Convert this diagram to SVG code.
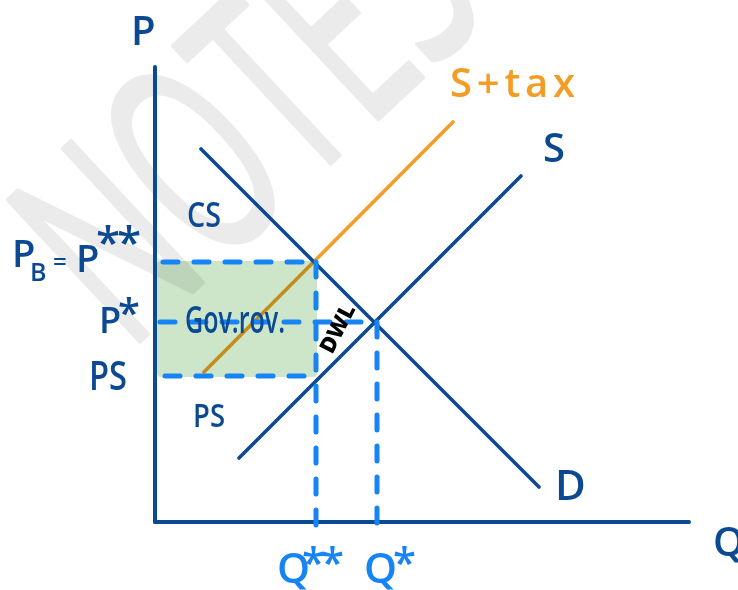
<svg xmlns="http://www.w3.org/2000/svg" width="738" height="590" viewBox="0 0 738 590">
<style>
.ax{stroke:#0b4a92;stroke-width:4;stroke-linecap:round;fill:none}
.cv{stroke:#0b4a92;stroke-width:3.6;stroke-linecap:round;fill:none}
.tax{stroke:#f39c26;stroke-width:3.6;stroke-linecap:round;fill:none}
.dash{stroke:#1784f5;stroke-width:5;stroke-linecap:round;stroke-dasharray:15 16;fill:none}
.lb{font-family:"Open Sans","Noto Sans",sans-serif;font-weight:600;fill:#0b4a92}
.lq{font-family:"Open Sans","Noto Sans",sans-serif;font-weight:600;fill:#1784f5}
.lo{font-family:"Open Sans","Noto Sans",sans-serif;font-weight:600;fill:#f39c26}
.wm{font-family:"Open Sans","Noto Sans",sans-serif;font-weight:400;fill:#ebebeb;stroke:#ebebeb;stroke-width:5;stroke-linejoin:round}
</style>
<rect width="738" height="590" fill="#ffffff"/>
<g id="watermark">
<text class="wm" font-size="270" transform="translate(128,352) rotate(-43) scale(0.58,1)">NOTES</text>
</g>
<g id="supply-tax">
<line class="tax" x1="204" y1="372" x2="453" y2="122"/>
</g>
<g id="gov-revenue">
<rect x="157" y="261" width="160" height="116" rx="4" fill="#cde6ca" style="mix-blend-mode:multiply"/>
</g>
<g id="connectors">
<line class="ax" x1="155" y1="67" x2="155" y2="522"/>
<line class="ax" x1="155" y1="522" x2="689" y2="522"/>
<line class="cv" x1="201" y1="149" x2="539" y2="487"/>
<line class="cv" x1="239" y1="458" x2="521" y2="176"/>
<path class="dash" d="M163,262 H316"/>
<path class="dash" d="M316,262 V536"/>
<path class="dash" d="M165,376 H316"/>
<path class="dash" d="M160,322 H377"/>
<path class="dash" d="M377,322 V528"/>
</g>
<g id="axis-labels">
<text class="lb" x="131" y="45" font-size="40">P</text>
<text class="lb" x="713" y="556" font-size="40">Q</text>
</g>
<g id="curve-labels">
<text class="lo" x="450" y="97" font-size="40" textLength="125" lengthAdjust="spacing">S+tax</text>
<text class="lb" x="543" y="162" font-size="40">S</text>
<text class="lb" x="555" y="500" font-size="42">D</text>
</g>
<g id="price-labels">
<text class="lb" x="12" y="267" font-size="38">P</text>
<text class="lb" x="30" y="281" font-size="25">B</text>
<text class="lb" x="53" y="270" font-size="24">=</text>
<text class="lb" x="76" y="272" font-size="38">P</text>
<text class="lb" x="96" y="258" font-size="44" letter-spacing="-3">**</text>
<text class="lb" x="99" y="333" font-size="36">P</text>
<text class="lb" x="118" y="327" font-size="40">*</text>
<text class="lb" x="89" y="390" font-size="40" textLength="38" lengthAdjust="spacingAndGlyphs">PS</text>
</g>
<g id="area-labels">
<text class="lb" x="187" y="227" font-size="34" textLength="34" lengthAdjust="spacingAndGlyphs">CS</text>
<text class="lb" x="185" y="333" font-size="37" font-weight="700" textLength="100" lengthAdjust="spacingAndGlyphs">Gov.rov.</text>
<text class="lb" x="193" y="427" font-size="32" textLength="32" lengthAdjust="spacingAndGlyphs">PS</text>
<text x="0" y="0" font-family="Open Sans, sans-serif" font-weight="800" font-size="22" fill="#000" text-anchor="middle" transform="translate(344,332) rotate(-63)">DWL</text>
</g>
<g id="quantity-labels">
<text class="lq" x="277" y="583" font-size="42">Q</text>
<text class="lq" x="302" y="577" font-size="42" letter-spacing="-4">**</text>
<text class="lq" x="364" y="583" font-size="42">Q</text>
<text class="lq" x="393" y="577" font-size="42">*</text>
</g>
</svg>
